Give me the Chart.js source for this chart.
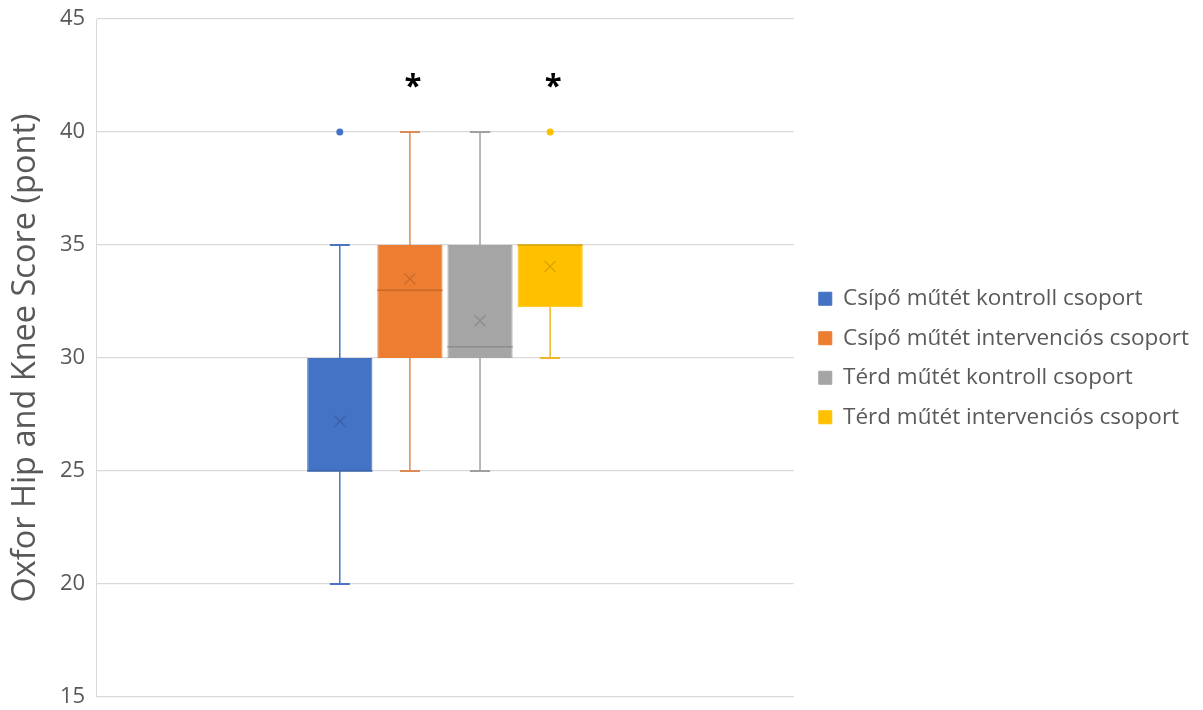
<!DOCTYPE html>
<html>
<head>
<meta charset="utf-8">
<script src="https://cdn.jsdelivr.net/npm/chart.js@4.4.1/dist/chart.umd.min.js"></script>
<style>
  html, body { margin: 0; padding: 0; background: #ffffff; }
  #wrap { width: 1203px; height: 710px; position: relative; }
</style>
</head>
<body>
<div id="wrap"><canvas id="c" width="1203" height="710"></canvas></div>
<script>
// ---- Data ----
const categories = [''];
const seriesNames = [
  'Csípő műtét kontroll csoport',
  'Csípő műtét intervenciós csoport',
  'Térd műtét kontroll csoport',
  'Térd műtét intervenciós csoport'
];
const seriesColors = ['#4472C4', '#ED7D31', '#A5A5A5', '#FFC000'];
const whiskerColors = ['#4A75C2', '#DC8A55', '#A0A0A0', '#EDB62A'];
const darkColors   = ['#3A62A8', '#C8692A', '#8C8C8C', '#D9A300'];
const mins     = [20, 25, 25, 30];
const q1s      = [25, 30, 30, 32.25];
const medians  = [25, 33, 30.5, 35];
const q3s      = [30, 35, 35, 35];
const maxs     = [35, 40, 40, 35];
const means    = [27.2, 33.5, 31.65, 34.05];
const outliers = [[40], [], [], [40]];
const significance = ['', '*', '', '*'];
const yTicks = { min: 15, max: 45, step: 5 };
const yTitle = 'Oxfor Hip and Knee Score (pont)';

const FONT = "'Open Sans', 'Noto Sans', sans-serif";
const TEXT = '#595959';

const datasets = seriesNames.map((name, i) => ({
  label: name,
  data: [[q1s[i], q3s[i]]],
  backgroundColor: seriesColors[i],
  borderColor: seriesColors[i],
  borderWidth: 1,
  borderSkipped: false,
  categoryPercentage: 0.402,
  barPercentage: 0.93,
  yAxisID: 'y'
}));

const boxPlugin = {
  id: 'boxExtras',
  afterDatasetsDraw(chart) {
    const ctx = chart.ctx;
    const y = chart.scales.y;
    chart.data.datasets.forEach((ds, i) => {
      const meta = chart.getDatasetMeta(i);
      if (meta.hidden) return;
      const bar = meta.data[0];
      const x = bar.x;
      const half = bar.width / 2;
      const cap = 10;
      ctx.save();
      // whiskers
      ctx.strokeStyle = whiskerColors[i];
      ctx.lineWidth = 1.5;
      ctx.beginPath();
      ctx.moveTo(x, y.getPixelForValue(q3s[i]));
      ctx.lineTo(x, y.getPixelForValue(maxs[i]));
      ctx.moveTo(x, y.getPixelForValue(q1s[i]));
      ctx.lineTo(x, y.getPixelForValue(mins[i]));
      ctx.stroke();
      ctx.lineWidth = 2;
      ctx.beginPath();
      if (maxs[i] !== q3s[i]) {
        ctx.moveTo(x - cap, y.getPixelForValue(maxs[i]));
        ctx.lineTo(x + cap, y.getPixelForValue(maxs[i]));
      }
      if (mins[i] !== q1s[i]) {
        ctx.moveTo(x - cap, y.getPixelForValue(mins[i]));
        ctx.lineTo(x + cap, y.getPixelForValue(mins[i]));
      }
      ctx.stroke();
      // median
      ctx.strokeStyle = darkColors[i];
      ctx.lineWidth = 1.5;
      ctx.beginPath();
      const my = y.getPixelForValue(medians[i]);
      ctx.moveTo(x - half, my);
      ctx.lineTo(x + half, my);
      ctx.stroke();
      // mean marker
      const mn = y.getPixelForValue(means[i]);
      const s = 5.5;
      ctx.lineWidth = 1.3;
      ctx.beginPath();
      ctx.moveTo(x - s, mn - s); ctx.lineTo(x + s, mn + s);
      ctx.moveTo(x + s, mn - s); ctx.lineTo(x - s, mn + s);
      ctx.stroke();
      // outliers
      ctx.fillStyle = seriesColors[i];
      outliers[i].forEach(v => {
        ctx.beginPath();
        ctx.arc(x, y.getPixelForValue(v), 3.5, 0, Math.PI * 2);
        ctx.fill();
      });
      // significance marks
      if (significance[i]) {
        ctx.fillStyle = '#000000';
        ctx.font = "bold 31px " + FONT;
        ctx.textAlign = 'center';
        ctx.textBaseline = 'middle';
        ctx.fillText(significance[i], x + 3, y.getPixelForValue(42.0));
      }
      ctx.restore();
    });
  }
};

new Chart(document.getElementById('c'), {
  type: 'bar',
  data: { labels: categories, datasets },
  options: {
    responsive: false,
    animation: false,
    layout: { padding: { left: 6, right: 4, top: 19, bottom: 13 } },
    plugins: {
      legend: {
        position: 'right',
        align: 'center',
        maxWidth: 420,
        labels: {
          boxWidth: 13,
          boxHeight: 13,
          padding: 17,
          color: TEXT,
          font: { family: FONT, size: 22.5 }
        }
      },
      tooltip: { enabled: false }
    },
    scales: {
      x: {
        display: false,
        grid: { display: false }
      },
      y: {
        position: 'left',
        min: yTicks.min,
        max: yTicks.max,
        afterFit(s) { s.paddingTop = 0; s.paddingBottom = 0; },
        ticks: {
          stepSize: yTicks.step,
          color: TEXT,
          padding: 11,
          font: { family: FONT, size: 22 }
        },
        grid: { color: '#D9D9D9', lineWidth: 1.3, drawTicks: false },
        border: { display: true, color: '#D9D9D9' },
        title: {
          display: true,
          text: yTitle,
          color: TEXT,
          font: { family: FONT, size: 32.5 },
          padding: { top: 0, bottom: 4 }
        }
      },
      gap: {
        position: 'right',
        display: true,
        min: yTicks.min,
        max: yTicks.max,
        afterFit(s) { s.width = 8; s.paddingTop = 0; s.paddingBottom = 0; },
        ticks: { display: false },
        grid: { display: false },
        border: { display: false }
      }
    }
  },
  plugins: [boxPlugin]
});
</script>
</body>
</html>
